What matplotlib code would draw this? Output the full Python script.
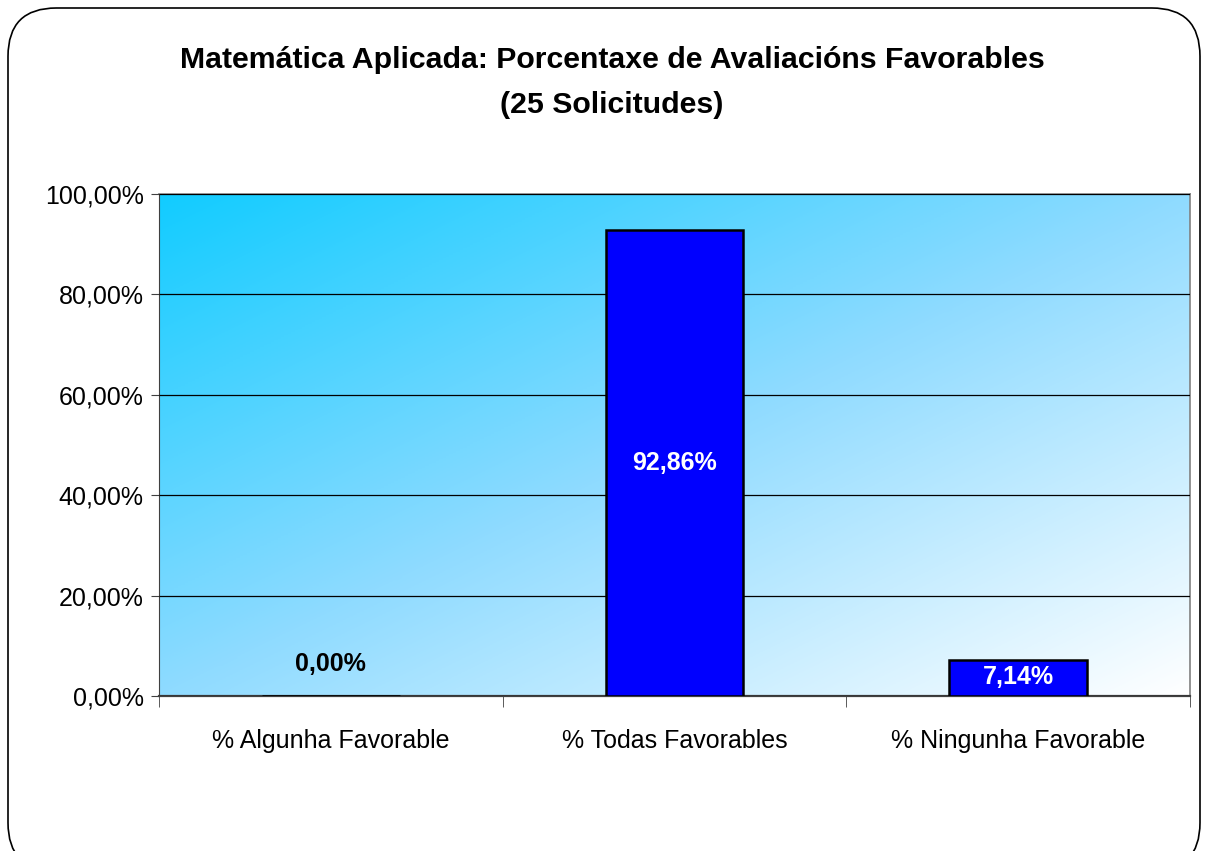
"""Bar chart: Matemática Aplicada, porcentaxe de avaliacións favorables."""
import matplotlib.pyplot as plt
import numpy as np
from matplotlib.colors import LinearSegmentedColormap
from matplotlib.patches import FancyBboxPatch

plt.rcParams["font.family"] = ["Liberation Sans", "DejaVu Sans"]

categories = ["% Algunha Favorable", "% Todas Favorables", "% Ningunha Favorable"]
values = [0.00, 92.86, 7.14]
value_labels = ["0,00%", "92,86%", "7,14%"]
y_ticks = [0, 20, 40, 60, 80, 100]
y_tick_labels = ["0,00%", "20,00%", "40,00%", "60,00%", "80,00%", "100,00%"]
title_lines = ["Matemática Aplicada: Porcentaxe de Avaliacións Favorables", "(25 Solicitudes)"]

W, H = 1207, 851
fig = plt.figure(figsize=(W / 100, H / 100), dpi=100)

# rounded outer frame
frame = FancyBboxPatch(
    (8 / W, -20 / H), (1200 - 8) / W, (H - 8 + 20) / H,
    boxstyle="round,pad=0,rounding_size=0.04",
    transform=fig.transFigure, facecolor="none", edgecolor="black",
    linewidth=1.2, mutation_aspect=W / H, zorder=-1,
)
fig.patches.append(frame)

ax = fig.add_axes([159 / W, 1 - 696 / H, (1190 - 159) / W, (696 - 194) / H])

# diagonal gradient background: cyan top-left -> white bottom-right
cmap = LinearSegmentedColormap.from_list("bg", ["#12CCFF", "#8FDBFF", "#FFFFFF"])
gx, gy = np.meshgrid(np.linspace(0, 1, 300), np.linspace(0, 1, 300))
grad = (gx + gy) / 2.0
ax.imshow(grad, cmap=cmap, extent=(0, 1, 0, 1), origin="upper", transform=ax.transAxes,
          aspect="auto", zorder=0, interpolation="bilinear")

x = np.arange(len(categories))
ax.bar(x, values, width=0.4, color="#0000FF", edgecolor="black", linewidth=1.8, zorder=3)

for xi, v, lab in zip(x, values, value_labels):
    if v < 1:
        ax.text(xi, 6.3, lab, ha="center", va="center", fontsize=18,
                fontweight="bold", color="black", zorder=4)
    elif v > 50:
        ax.text(xi, v / 2, lab, ha="center", va="center", fontsize=18,
                fontweight="bold", color="white", zorder=4)
    else:
        ax.text(xi, v / 2 + 0.2, lab, ha="center", va="center", fontsize=18,
                fontweight="bold", color="white", zorder=4)

ax.set_xlim(-0.5, 2.5)
ax.set_ylim(0, 100)
ax.set_yticks(y_ticks)
ax.set_yticklabels(y_tick_labels, fontsize=18)
ax.yaxis.grid(True, color="black", linewidth=0.9, zorder=1)
ax.set_axisbelow(False)
ax.set_xticks(x)
ax.set_xticklabels(categories, fontsize=18)
ax.tick_params(axis="x", length=0, pad=24)
ax.set_xticks([-0.5, 0.5, 1.5, 2.5], minor=True)
ax.tick_params(axis="x", which="minor", length=8, direction="out", color="#404040")
ax.tick_params(axis="y", length=6, direction="out", color="#404040", pad=5)

for side in ["top", "right"]:
    ax.spines[side].set_color("#808080")
    ax.spines[side].set_linewidth(1.2)
ax.spines["left"].set_color("#404040")
ax.spines["bottom"].set_color("#404040")
ax.spines["bottom"].set_linewidth(1.6)

fig.text(612 / W, 1 - 60 / H, title_lines[0], ha="center", va="center",
         fontsize=21.8, fontweight="bold")
fig.text(612 / W, 1 - 105 / H, title_lines[1], ha="center", va="center",
         fontsize=21.8, fontweight="bold")

fig.savefig("out.png", dpi=100)
